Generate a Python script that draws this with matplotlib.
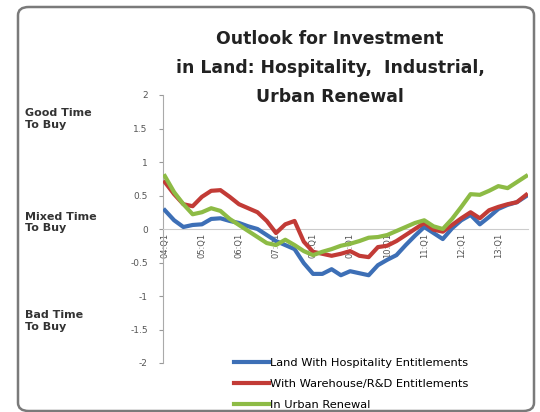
import matplotlib
matplotlib.use("Agg")
import matplotlib.pyplot as plt
from matplotlib.patches import FancyBboxPatch
from matplotlib.transforms import blended_transform_factory
import numpy as np

# Survey index per quarter (positive = good time to buy)
quarter_labels = ["04:Q1", "05:Q1", "06:Q1", "07:Q1", "08:Q1",
                  "09:Q1", "10:Q1", "11:Q1", "12:Q1", "13:Q1"]

hospitality = [0.28, 0.13, 0.03, 0.06, 0.07, 0.15, 0.16, 0.12, 0.09, 0.04,
               0.00, -0.09, -0.18, -0.24, -0.30, -0.51, -0.67, -0.67, -0.60, -0.69,
               -0.63, -0.66, -0.69, -0.54, -0.46, -0.39, -0.24, -0.10, 0.03, -0.06,
               -0.15, 0.01, 0.13, 0.21, 0.07, 0.18, 0.30, 0.36, 0.40, 0.49]

warehouse = [0.70, 0.52, 0.37, 0.34, 0.48, 0.57, 0.58, 0.48, 0.37, 0.31,
             0.25, 0.12, -0.06, 0.07, 0.12, -0.19, -0.34, -0.37, -0.40, -0.37,
             -0.33, -0.40, -0.42, -0.27, -0.25, -0.18, -0.09, 0.00, 0.09, -0.01,
             -0.04, 0.06, 0.16, 0.25, 0.16, 0.28, 0.33, 0.37, 0.40, 0.51]

urban_renewal = [0.79, 0.55, 0.37, 0.22, 0.25, 0.31, 0.27, 0.15, 0.06, -0.03,
                 -0.12, -0.21, -0.24, -0.16, -0.24, -0.33, -0.39, -0.34, -0.30, -0.25,
                 -0.22, -0.18, -0.13, -0.12, -0.09, -0.03, 0.03, 0.09, 0.13, 0.04,
                 0.00, 0.15, 0.33, 0.52, 0.51, 0.57, 0.64, 0.61, 0.70, 0.79]

series_names = ["Land With Hospitality Entitlements",
                "With Warehouse/R&D Entitlements",
                "In Urban Renewal"]

y_ticks = [2, 1.5, 1, 0.5, 0, -0.5, -1, -1.5, -2]
zone_labels = ["Good Time\nTo Buy", "Mixed Time\nTo Buy", "Bad Time\nTo Buy"]
zone_values = [1.64, 0.1, -1.37]

W, H = 540, 412
fig = plt.figure(figsize=(W / 100, H / 100), dpi=100)
fig.patch.set_facecolor("white")

# Rounded chart frame
frame = FancyBboxPatch((18 / W, 1 / H), 516 / W, 404 / H,
                       boxstyle="round,pad=0,rounding_size=0.02",
                       transform=fig.transFigure, facecolor="white",
                       edgecolor="#7a7a7a", linewidth=1.8, zorder=-5)
fig.patches.append(frame)

ax = fig.add_axes([163 / W, 1 - 363 / H, (528 - 163) / W, (363 - 95) / H])
ax.set_facecolor("none")
ax.set_zorder(2)

x = np.arange(len(hospitality))
colors = ["#3d6fb6", "#c23b36", "#8dbb45"]
for vals, col, name in zip([hospitality, warehouse, urban_renewal], colors, series_names):
    ax.plot(x, vals, color=col, linewidth=3.0, solid_joinstyle="round",
            label=name, zorder=3)

ax.set_ylim(-2, 2)
ax.set_xlim(-0.2, len(x) - 0.8)
ax.set_yticks(y_ticks)
ax.set_yticklabels([f"{t:g}" for t in y_ticks], fontsize=6.5, color="#555555")
ax.tick_params(axis="y", length=3, color="#999999", pad=8)

ax.spines["top"].set_visible(False)
ax.spines["right"].set_visible(False)
ax.spines["left"].set_color("#aaaaaa")
ax.spines["bottom"].set_position(("data", 0))
ax.spines["bottom"].set_color("#cccccc")

ax.set_xticks(x[::4])
ax.set_xticklabels(quarter_labels, rotation=90, fontsize=6, color="#555555")
ax.tick_params(axis="x", length=0, pad=3)

# Zone labels on the left
zone_tf = blended_transform_factory(fig.transFigure, ax.transData)
for lab, v in zip(zone_labels, zone_values):
    fig.text(25 / W, v, lab, transform=zone_tf,
             fontsize=8, fontweight="bold", color="#333333", ha="left", va="center",
             linespacing=1.2)

fig.text(330 / W, 1 - 68 / H,
         "Outlook for Investment\nin Land: Hospitality,  Industrial,\nUrban Renewal",
         ha="center", va="center", fontsize=12.4, fontweight="bold",
         color="#222222", linespacing=1.75)

fig.legend(loc="upper left", bbox_to_anchor=(234 / W, 1 - 358 / H),
           frameon=False, fontsize=8.2, handlelength=3.1, handletextpad=0.1,
           labelspacing=0.95, borderaxespad=0, borderpad=0)

fig.savefig("out.png", dpi=100)
